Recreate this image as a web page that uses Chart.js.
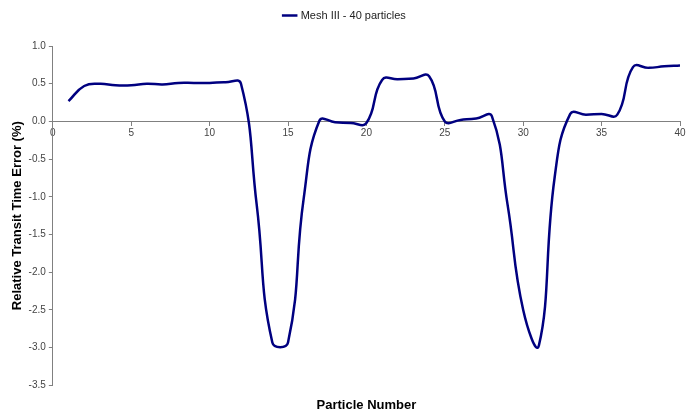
<!DOCTYPE html>
<html>
<head>
<meta charset="utf-8">
<script src="https://cdn.jsdelivr.net/npm/chart.js@4.4.1/dist/chart.umd.min.js"></script>
<style>
  html, body { margin: 0; padding: 0; background: #fff; }
  #wrap { width: 692px; height: 414px; }
</style>
</head>
<body>
<div id="wrap"><canvas id="transitChart"></canvas></div>
<script>
// Data
const particles = [];
for (let i = 1; i <= 40; i++) particles.push(i);
const errors = [
    0.27, 0.47, 0.50, 0.48, 0.48, 0.50, 0.49, 0.51, 0.51, 0.51,
    0.52, 0.50, -1.10, -2.93, -2.93, -1.02, 0.01, -0.01, -0.02, -0.02,
    0.55, 0.56, 0.57, 0.60, 0.00, 0.02, 0.04, 0.07, -1.10, -2.50,
    -2.97, -0.75, 0.10, 0.09, 0.10, 0.09, 0.72, 0.71, 0.73, 0.74
];
const seriesName = 'Mesh III - 40 particles';

const axisGray = '#808080';
const lineColor = '#000080';

// extra space between legend and plot
const legendGap = {
    id: 'legendGap',
    beforeInit(chart) {
        const fit = chart.legend.fit;
        chart.legend.fit = function () {
            fit.bind(chart.legend)();
            this.height += 15;
        };
    }
};

const ctx = document.getElementById('transitChart').getContext('2d');

const transitChart = new Chart(ctx, {
    type: 'line',
    data: {
        datasets: [{
            label: seriesName,
            data: particles.map((p, i) => ({ x: p, y: errors[i] })),
            borderColor: lineColor,
            backgroundColor: lineColor,
            borderWidth: 2.5,
            pointRadius: 0,
            tension: 0.45,
            fill: false
        }]
    },
    options: {
        responsive: true,
        maintainAspectRatio: false,
        animation: false,
        layout: { padding: { top: 0, right: 12, bottom: 1, left: 10 } },
        plugins: {
            legend: {
                position: 'top',
                labels: {
                    usePointStyle: true,
                    pointStyle: 'line',
                    boxWidth: 20,
                    color: '#222',
                    font: { family: 'Liberation Sans', size: 11 },
                    padding: 10
                }
            },
            tooltip: { enabled: false }
        },
        scales: {
            x: {
                type: 'linear',
                min: 0,
                max: 40,
                position: { y: 0 },
                grid: { drawOnChartArea: false, color: axisGray, tickLength: 4 },
                border: { color: axisGray },
                ticks: {
                    stepSize: 5,
                    color: '#444',
                    font: { family: 'Liberation Sans', size: 10 },
                    padding: 2,
                    maxRotation: 0
                }
            },
            x2: {
                type: 'linear',
                position: 'bottom',
                min: 0,
                max: 40,
                grid: { display: false },
                border: { display: false },
                ticks: { display: false },
                title: {
                    display: true,
                    text: 'Particle Number',
                    color: '#000',
                    font: { family: 'Liberation Sans', size: 13, weight: 'bold' },
                    padding: { top: 4, bottom: 0 }
                }
            },
            y: {
                min: -3.5,
                max: 1.0,
                grid: { drawOnChartArea: false, color: axisGray, tickLength: 4 },
                border: { color: axisGray },
                ticks: {
                    stepSize: 0.5,
                    color: '#444',
                    font: { family: 'Liberation Sans', size: 10 },
                    padding: 3,
                    callback: v => v.toFixed(1)
                },
                title: {
                    display: true,
                    text: 'Relative Transit Time Error (%)',
                    color: '#000',
                    font: { family: 'Liberation Sans', size: 13, weight: 'bold' },
                    padding: { top: 0, bottom: 0 }
                }
            }
        }
    },
    plugins: [legendGap]
});
</script>
</body>
</html>
